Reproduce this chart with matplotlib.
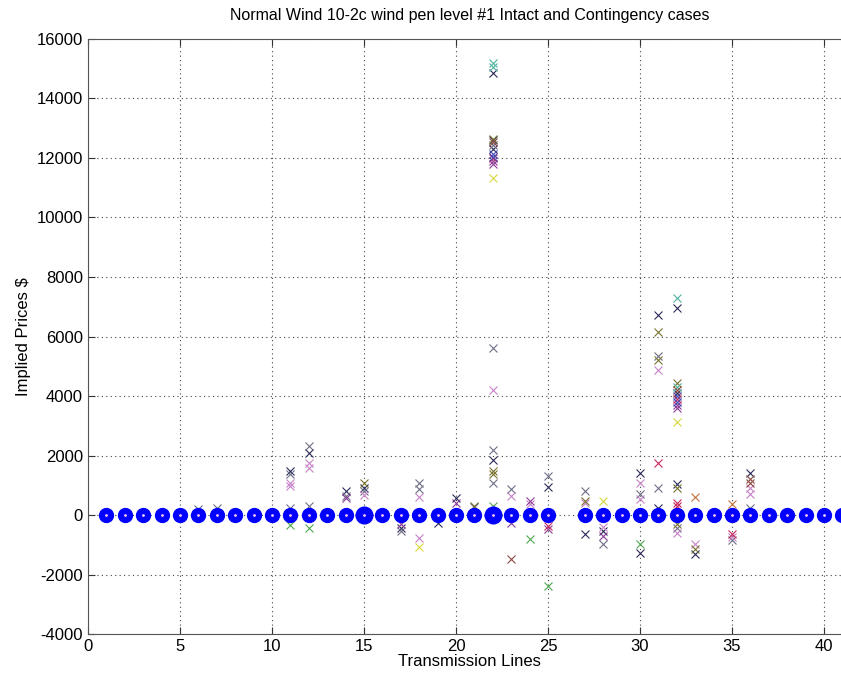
import matplotlib
matplotlib.use('Agg')
import matplotlib.pyplot as plt

plt.rcParams['font.family'] = ['Liberation Sans', 'DejaVu Sans']
plt.rcParams['axes.unicode_minus'] = False

# transmission lines that have a base-case point (line 26 missing)
lines = [i for i in range(1, 42) if i != 26]
base_vals = [0] * len(lines)
big_lines = [15, 22]

# contingency cases, grouped by marker colour: (line, price)
navy_x = [11, 12, 14, 15, 17, 19, 20, 22, 22, 22, 22, 25, 27, 28, 30, 30, 31, 31, 32, 32, 32, 33, 36]
navy_y = [1480, 2080, 800, 900, -430, -270, 570, 14850, 12600, 12300, 1850, 940, -640, -540, 1410, -1280,
          6720, 235, 1040, 6960, 4100, -1310, 1410]
gray_x = [6, 7, 11, 11, 12, 12, 14, 15, 17, 18, 18, 21, 22, 22, 22, 22, 23, 25, 27, 28, 30, 31, 31, 32, 35, 36]
gray_y = [200, 250, 1380, 235, 2320, 300, 640, 800, -540, 1075, 870, 270, 2180, 5600, 1075, 12450, 870, 1310,
          800, -970, 700, 900, 5340, -440, -840, 235]
pink_x = [11, 11, 12, 12, 15, 18, 18, 22, 23, 24, 27, 28, 30, 30, 31, 32, 33, 35, 36, 36]
pink_y = [1075, 975, 1750, 1580, 670, 600, -770, 4200, 640, 370, 400, -400, 1075, 540, 4870, -600, -970,
          -740, 910, 700]
purple_x = [14, 17, 20, 22, 22, 23, 24, 25, 28, 32, 32]
purple_y = [570, -300, 400, 11900, 11800, -270, 470, -470, -700, 3700, 3600]
olive_x = [15, 21, 22, 22, 22, 27, 31, 31, 32, 32, 32, 33]
olive_y = [1075, 300, 12650, 1480, 1380, 470, 6150, 5210, 910, -300, 4440, -1140]
green_x = [11, 12, 22, 24, 25, 30]
green_y = [-340, -440, 300, -800, -2390, -970]
teal_x = [22, 22, 32, 32]
teal_y = [15190, 15050, 7290, 4300]
yellow_x = [18, 22, 28, 32]
yellow_y = [-1075, 11320, 470, 3120]
crimson_x = [22, 25, 31, 32, 32, 32, 35]
crimson_y = [12000, -370, 1750, 400, 300, 3900, -640]
brown_x = [22, 23, 36, 36, 32]
brown_y = [12550, -1480, 1210, 1075, 4200]
orange_x = [33, 35]
orange_y = [600, 370]
blue_x = [22, 22, 32, 32]
blue_y = [12150, 12050, 3800, 4000]

series = [
    (navy_x, navy_y, '#2a2a58'),
    (gray_x, gray_y, '#6e6e86'),
    (pink_x, pink_y, '#c882c8'),
    (purple_x, purple_y, '#8c3c96'),
    (olive_x, olive_y, '#7a7430'),
    (green_x, green_y, '#50a850'),
    (teal_x, teal_y, '#50b4a0'),
    (yellow_x, yellow_y, '#d8d840'),
    (crimson_x, crimson_y, '#c8285a'),
    (brown_x, brown_y, '#8c4840'),
    (orange_x, orange_y, '#c8703c'),
    (blue_x, blue_y, '#4646b4'),
]

fig = plt.figure(figsize=(8.41, 6.77), dpi=100)
ax = fig.add_axes([0.1046, 0.0635, 0.908, 0.8789])

for xs, ys, c in series:
    ax.plot(xs, ys, 'x', color=c, ms=6, mew=0.8, zorder=2)

ax.plot(lines, base_vals, 'o', color='#0000ff', mfc='#0000ff', ms=10, zorder=3, clip_on=False)
ax.plot(big_lines, [0] * len(big_lines), 'o', color='#0000ff', mfc='#0000ff', ms=12, zorder=3)
ax.plot(lines, base_vals, '.', color='#f0c8f0', ms=2, zorder=4)

ax.set_xlim(0, 41.5)
ax.set_ylim(-4000, 16000)
ax.set_xticks(range(0, 41, 5))
ax.set_yticks(range(-4000, 16001, 2000))
ax.grid(True, linestyle=(0, (1, 3)), color='#444444', linewidth=0.8)
ax.tick_params(direction='in', top=True, right=True, labelsize=12, length=5, colors='#333333',
               labelcolor='black')
for s in ax.spines.values():
    s.set_color('#555555')

ax.set_title('Normal Wind 10-2c wind pen level #1 Intact and Contingency cases', fontsize=11.5, pad=14)
ax.set_xlabel('Transmission Lines', fontsize=12, labelpad=0)
ax.set_ylabel('Implied Prices $', fontsize=12)

fig.savefig('out.png', dpi=100)
